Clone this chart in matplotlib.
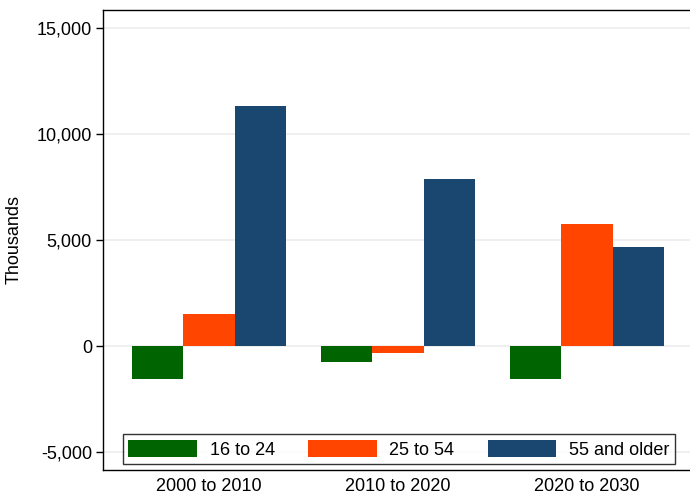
import matplotlib.pyplot as plt
import numpy as np

plt.rcParams['font.family'] = ['Liberation Sans', 'DejaVu Sans']

periods = ['2000 to 2010', '2010 to 2020', '2020 to 2030']
age_groups = ['16 to 24', '25 to 54', '55 and older']
young = [-1550, -720, -1520]
prime = [1500, -300, 5740]
older = [11330, 7900, 4680]
colors = ['#006400', '#ff4500', '#1a476f']

fig = plt.figure(figsize=(6.9, 4.98), dpi=100)
ax = fig.add_axes([103/690, 28/498, 590/690, 460/498])

x = np.arange(len(periods))
w = 0.272
for i, (vals, lab, c) in enumerate(zip([young, prime, older], age_groups, colors)):
    ax.bar(x + (i - 1) * w, vals, width=w, color=c, label=lab, zorder=3)

ax.set_xlim(-0.56, 2.56)
ax.set_ylim(-5830, 15840)
yt = [-5000, 0, 5000, 10000, 15000]
ax.set_yticks(yt)
ax.set_yticklabels([f'{v:,}' for v in yt], fontsize=13)
ax.set_xticks(x)
ax.set_xticklabels(periods, fontsize=13)
ax.tick_params(axis='x', length=0, pad=6)
ax.tick_params(axis='y', length=5, width=1, direction='out', pad=3)
ax.set_ylabel('Thousands', fontsize=13, labelpad=10)

for v in yt:
    ax.axhline(v, color='#ececec', lw=1.2, zorder=1)

for s in ax.spines.values():
    s.set_color('black')
    s.set_linewidth(1)
ax.spines['right'].set_visible(False)

leg = ax.legend(loc='lower left', bbox_to_anchor=(0.034, 0.013, 0.935, 0.07), mode='expand',
                ncol=3, fontsize=13, frameon=True, fancybox=False,
                handlelength=3.8, handleheight=1.1, borderpad=0.3, handletextpad=0.7,
                borderaxespad=0)
leg.get_frame().set_edgecolor('black')
leg.get_frame().set_linewidth(1)

fig.savefig('out.png', dpi=100)
